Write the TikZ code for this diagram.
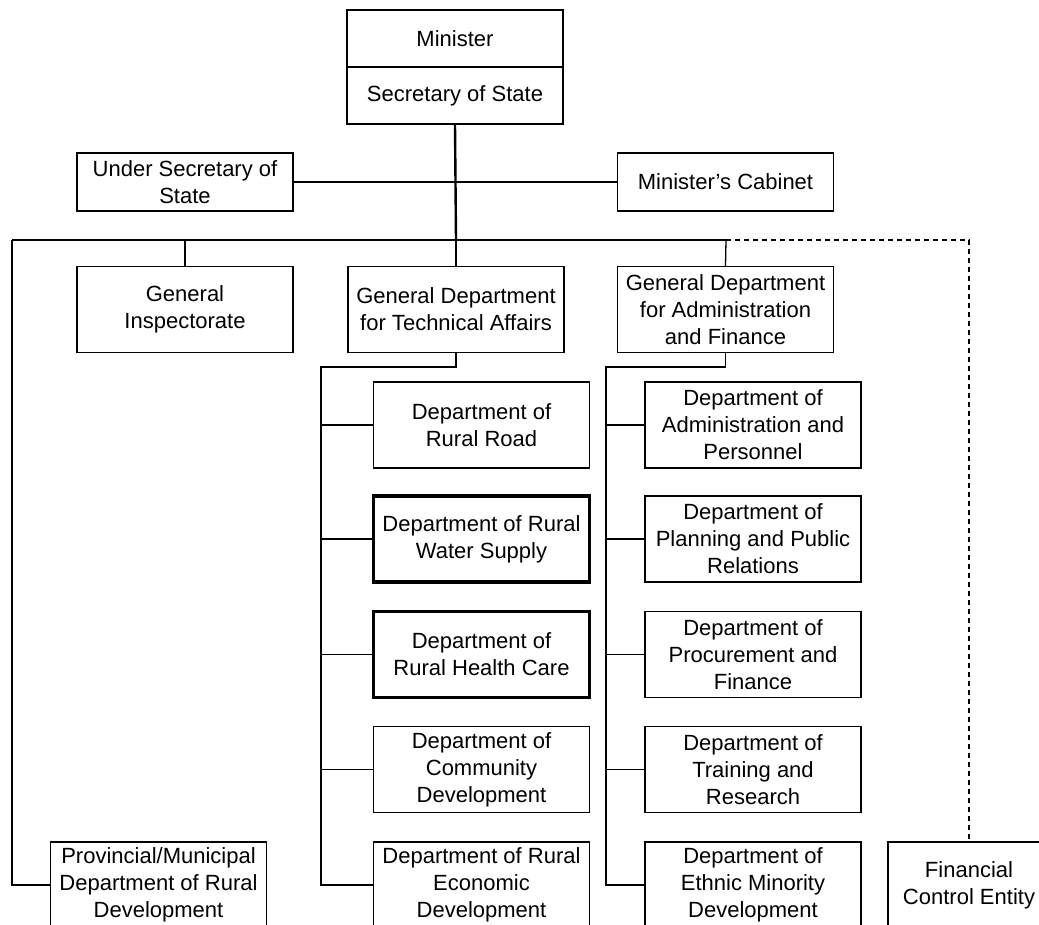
\documentclass[tikz,border=0pt]{standalone}
\usepackage{fontspec}
\setmainfont{Liberation Sans}
\begin{document}
\begin{tikzpicture}[x=1pt,y=-1pt,
  box/.style={draw, line width=1.4pt, minimum width=216pt, minimum height=86pt,
    inner sep=0pt, align=center, font=\fontsize{22}{27}\selectfont},
  topbox/.style={box, minimum height=57pt},
  sidebox/.style={box, minimum height=58pt},
  keybox/.style={box, line width=3.2pt},
  conn/.style={line width=1.3pt},
  trunk/.style={line width=2.4pt},
  dashconn/.style={line width=1.3pt, dash pattern=on 5pt off 4pt}]
\useasboundingbox (0,0) rectangle (1039,925);
\clip (0,0) rectangle (1039,925);

% top of the ministry
\node[topbox] (minister) at (455,38.5) {Minister};
\node[topbox] (secretary) at (455,95.5) {Secretary of State};
\node[sidebox] (under) at (185,182) {Under Secretary of\\State};
\node[sidebox] (cabinet) at (725.5,182) {Minister's Cabinet};

% general departments
\node[box] (insp) at (185,309.5) {General\\Inspectorate};
\node[box] (gdtech) at (456,309.5) {General Department\\for Technical Affairs};
\node[box] (gdadmin) at (725.5,309.5) {General Department\\for Administration\\and Finance};

% technical departments
\node[box] (road) at (481.5,425) {Department of\\Rural Road};
\node[keybox] (water) at (481.5,539) {Department of Rural\\Water Supply};
\node[keybox] (health) at (481.5,654.5) {Department of\\Rural Health Care};
\node[box] (community) at (481.5,769.5) {Department of\\Community\\Development};
\node[box] (economic) at (481.5,885) {Department of Rural\\Economic\\Development};

% administrative departments
\node[box] (personnel) at (753,425) {Department of\\Administration and\\Personnel};
\node[box] (planning) at (753,539) {Department of\\Planning and Public\\Relations};
\node[box] (procure) at (753,654.5) {Department of\\Procurement and\\Finance};
\node[box] (training) at (753,769.5) {Department of\\Training and\\Research};
\node[box] (ethnic) at (753,885) {Department of\\Ethnic Minority\\Development};

% provincial level and financial control
\node[box] (province) at (158.5,885) {Provincial/Municipal\\Department of Rural\\Development};
\node[box, minimum width=162pt] (finance) at (969,885) {Financial\\Control Entity};

% bus coordinates
\coordinate (hub) at (456,240);
\coordinate (busL) at (12,240);
\coordinate (busR) at (726,240);
\coordinate (busD) at (969,240);
\coordinate (mid) at (456,182);
\coordinate (techTop) at (321,367);
\coordinate (admTop) at (606,367);

% connectors
\draw[trunk] (secretary.south) -- (hub);
\draw[conn] (under.east) -- (mid) -- (cabinet.west);
\draw[conn] (busL) -- (busR);
\draw[dashconn] (busR) -- (busD) -- (finance.north);
\draw[conn] (insp.north) |- (busL);
\draw[conn] (hub) -- (gdtech.north);
\draw[conn] (busR) -- (gdadmin.north);
\draw[conn] (busL) |- (province.west);

\draw[conn] (gdtech.south) |- (techTop) |- (economic.west);
\foreach \n in {road,water,health,community}
  \draw[conn] (techTop |- \n.west) -- (\n.west);

\draw[conn] (gdadmin.south) |- (admTop) |- (ethnic.west);
\foreach \n in {personnel,planning,procure,training}
  \draw[conn] (admTop |- \n.west) -- (\n.west);
\end{tikzpicture}
\end{document}
